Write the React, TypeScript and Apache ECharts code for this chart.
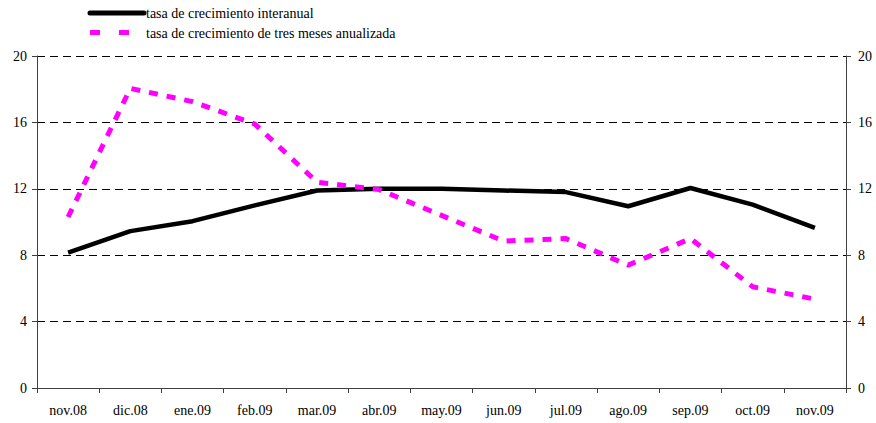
import React, { useEffect, useRef } from "react";
import * as echarts from "echarts";

const categories = ["nov.08", "dic.08", "ene.09", "feb.09", "mar.09", "abr.09", "may.09", "jun.09", "jul.09", "ago.09", "sep.09", "oct.09", "nov.09"];
const interanual = [8.15, 9.45, 10.05, 11.0, 11.9, 12.0, 12.0, 11.9, 11.8, 10.95, 12.05, 11.05, 9.65];
const tresMeses = [10.3, 18.05, 17.25, 15.9, 12.4, 11.95, 10.4, 8.85, 9.0, 7.4, 9.0, 6.1, 5.35];
const seriesNames = ["tasa de crecimiento interanual", "tasa de crecimiento de tres meses anualizada"];

const FONT = "'Times New Roman', 'Liberation Serif', 'DejaVu Serif', serif";
const MAGENTA = "#ff00ff";

export default function App() {
  const ref = useRef<HTMLDivElement>(null);
  useEffect(() => {
    if (!ref.current) return;
    const chart = echarts.init(ref.current, undefined, { renderer: "svg" });
    const axisLabel = { color: "#000", fontFamily: FONT, fontSize: 14 };
    const yCommon = {
      type: "value" as const,
      min: 0,
      max: 20,
      interval: 4,
      axisLine: { show: true, lineStyle: { color: "#404040", width: 1 } },
      axisTick: { show: true, length: 5, lineStyle: { color: "#404040" } },
    };
    chart.setOption({
      animation: false,
      textStyle: { fontFamily: FONT },
      graphic: [
        { type: "line", shape: { x1: 90, y1: 13, x2: 144, y2: 13 }, style: { stroke: "#000", lineWidth: 5, lineCap: "round" } },
        { type: "text", x: 146, y: 13, style: { text: seriesNames[0], fill: "#000", fontFamily: FONT, fontSize: 14, verticalAlign: "middle" } },
        { type: "rect", shape: { x: 90, y: 30, width: 10, height: 5 }, style: { fill: MAGENTA } },
        { type: "rect", shape: { x: 119, y: 30, width: 10, height: 5 }, style: { fill: MAGENTA } },
        { type: "text", x: 146, y: 33, style: { text: seriesNames[1], fill: "#000", fontFamily: FONT, fontSize: 14, verticalAlign: "middle" } },
      ],
      grid: { left: 37, right: 30, top: 56, bottom: 35, containLabel: false },
      xAxis: {
        type: "category",
        data: categories,
        boundaryGap: true,
        axisLine: { lineStyle: { color: "#404040", width: 1 } },
        axisTick: { show: true, length: 5, interval: 0, lineStyle: { color: "#404040" } },
        axisLabel: { ...axisLabel, interval: 0, margin: 15 },
      },
      yAxis: [
        {
          ...yCommon,
          position: "left",
          axisLabel: { ...axisLabel, margin: 10 },
          splitLine: { show: true, lineStyle: { color: "#000", type: [8, 5], width: 1 } },
        },
        {
          ...yCommon,
          position: "right",
          axisLabel: { ...axisLabel, margin: 12 },
          splitLine: { show: false },
        },
      ],
      series: [
        {
          name: seriesNames[0],
          type: "line",
          data: interanual,
          symbol: "none",
          lineStyle: { color: "#000", width: 4.5 },
          itemStyle: { color: "#000" },
        },
        {
          name: seriesNames[1],
          type: "line",
          data: tresMeses,
          symbol: "none",
          lineStyle: { color: MAGENTA, width: 5, type: [9, 9] },
          itemStyle: { color: MAGENTA },
        },
      ],
    });
    return () => chart.dispose();
  }, []);
  return <div ref={ref} style={{ width: 876, height: 423, position: "absolute", left: 0, top: 0 }} />;
}
